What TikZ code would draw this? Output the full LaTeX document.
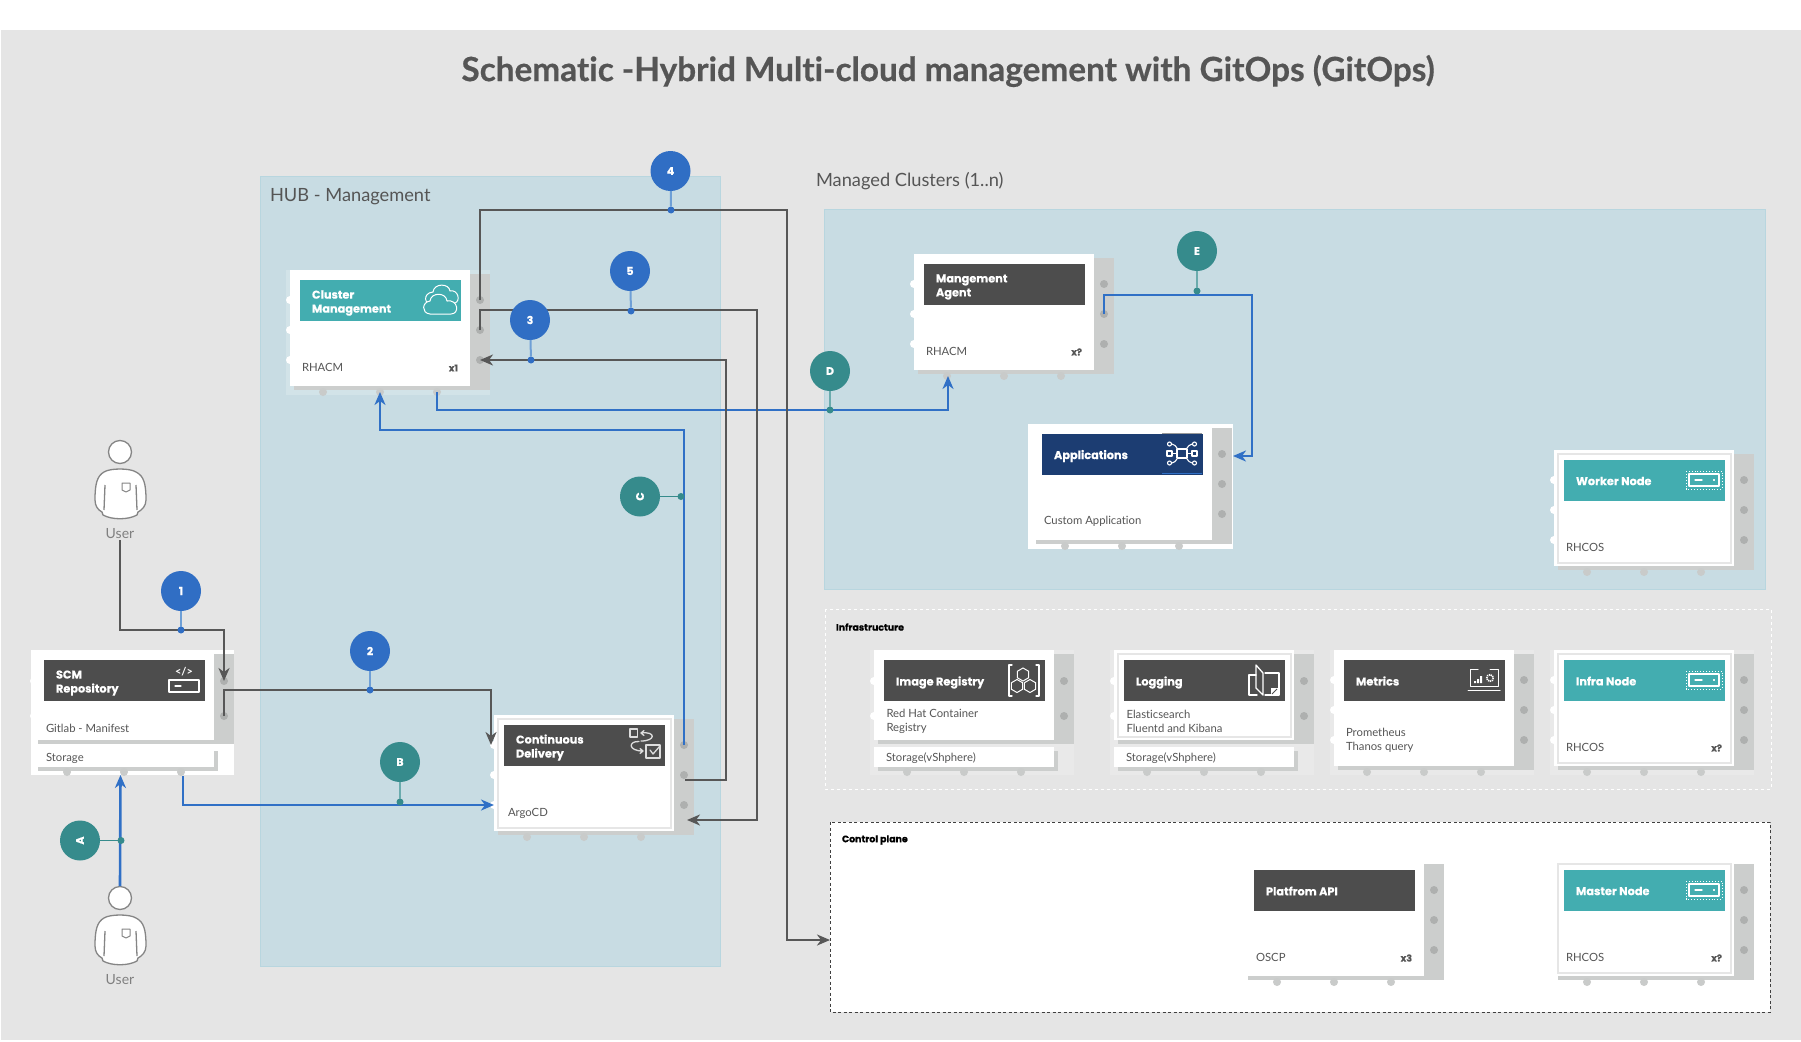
\documentclass[tikz,border=0pt]{standalone}
\usepackage{fontspec}
\setmainfont{Lato}[Ligatures=NoCommon]
\newfontfamily\hdrf{Poppins}[BoldFeatures={FakeBold=0.35}]
\newfontfamily\titlef{Lato}[Ligatures=NoCommon,BoldFeatures={FakeBold=0.5}]
\usetikzlibrary{arrows.meta,calc,shapes.geometric}
\definecolor{pagegrey}{HTML}{E5E5E5}
\definecolor{zoneblue}{HTML}{C8DCE3}
\definecolor{zoneedge}{HTML}{B8D6DF}
\definecolor{backing}{HTML}{CCCECD}
\definecolor{rpincol}{HTML}{AEB0AF}
\definecolor{bpincol}{HTML}{C9CBCA}
\definecolor{hdrteal}{HTML}{43ADB0}
\definecolor{hdrdark}{HTML}{4D4D4D}
\definecolor{hdrnavy}{HTML}{1C3D72}
\definecolor{txtgrey}{HTML}{555555}
\definecolor{linegrey}{HTML}{575757}
\definecolor{lineblue}{HTML}{3070C6}
\definecolor{badgeblue}{HTML}{306EC4}
\definecolor{badgeteal}{HTML}{368B8C}
\definecolor{stemblue}{HTML}{6E9FD6}
\definecolor{stemteal}{HTML}{6AABAD}
\definecolor{ringgrey}{HTML}{E6E6E6}
\definecolor{halogrey}{HTML}{E9E9E9}
\definecolor{halowhite}{HTML}{D2E3E8}
\definecolor{iconlight}{HTML}{DDDDDD}
\tikzset{
 every node/.style={inner sep=0pt,outer sep=0pt},
 zonebox/.style={fill=zoneblue,draw=zoneedge,line width=.8pt},
 rpin/.style={circle,minimum size=8pt,fill=rpincol},
 bpin/.style={circle,minimum size=8pt,fill=bpincol},
 lpin/.style={circle,minimum size=8pt,fill=white},
 cardbody/.style={fill=white,anchor=north west,minimum width=180pt},
 hdrbox/.style={anchor=north west,minimum width=161pt,minimum height=41pt},
 hdrtext/.style={anchor=west,text=white,align=left,font=\hdrf\bfseries\fontsize{11.3}{14}\selectfont},
 bodytext/.style={anchor=west,text=txtgrey,align=left,font=\fontsize{11.3}{14}\selectfont},
 counttext/.style={anchor=east,text=txtgrey,font=\hdrf\bfseries\fontsize{9.5}{11}\selectfont},
 seclabel/.style={anchor=west,text=txtgrey,font=\fontsize{18.25}{22}\selectfont},
 smalllabel/.style={anchor=west,text=black,font=\hdrf\bfseries\fontsize{9.4}{11}\selectfont},
 userlabel/.style={text=black!50,font=\fontsize{14}{16}\selectfont},
 badge/.style={circle,minimum size=40pt,text=white,font=\hdrf\bfseries\fontsize{11}{13}\selectfont},
 bluebadge/.style={badge,fill=badgeblue},
 tealbadge/.style={badge,fill=badgeteal},
 dotblue/.style={circle,minimum size=7pt,fill=badgeblue},
 dotteal/.style={circle,minimum size=7pt,fill=badgeteal},
 stemb/.style={draw=stemblue,line width=2pt},
 stemt/.style={draw=stemteal,line width=2pt},
 wire/.style={draw=linegrey,line width=2.6pt,-{Stealth[length=13pt,width=11pt,inset=4pt]}},
 wireblue/.style={draw=lineblue,line width=2.6pt,-{Stealth[length=13pt,width=11pt,inset=4pt]}},
 ring/.style={draw=ringgrey,line width=2pt},
 icon/.style={draw=white,line width=1.3pt,line join=round,line cap=round},
 iconl/.style={draw=iconlight,line width=1.3pt,line join=round,line cap=round},
 user/.style={draw=black!48,line width=1.3pt,fill=white,line join=round},
}
% full card: name X Y
\newcommand{\tallcard}[3]{%
 \fill[backing] (#2+4,#3+4) rectangle (#2+200,#3+120);
 \foreach \k/\d in {1/30,2/60,3/90}{
  \node[rpin] (#1-r\k) at (#2+190,#3+\d) {};
  \node[lpin] (#1-l\k) at (#2,#3+\d) {};}
 \foreach \k/\d in {1/33,2/90,3/147}{\node[bpin] (#1-b\k) at (#2+\d,#3+122) {};}
 \node[cardbody,minimum height=116pt] (#1) at (#2,#3) {};
}
% short card with storage strip: name X Y suffix
\newcommand{\shortcard}[4]{%
 \fill[backing] (#2+4,#3+4) rectangle (#2+200,#3+94);
 \foreach \k/\d in {1/31,2/66}{
  \node[rpin] (#1-r\k) at (#2+190,#3+\d) {};
  \node[lpin] (#1-l\k) at (#2,#3+\d) {};}
 \node[cardbody,minimum height=90pt] (#1) at (#2,#3) {};
 \fill[backing] (#2+4,#3+101) rectangle (#2+184,#3+121);
 \foreach \k/\d in {1/33,2/90,3/147}{\node[bpin] (#1-b\k) at (#2+\d,#3+122) {};}
 \node[cardbody,minimum height=20pt] (#1-st) at (#2,#3+97) {};
 \node[bodytext] (#1-sttext) at (#2+12,#3+108) {Storage#4};
}
\newcommand{\ringed}[3]{\draw[ring] (#1+3.5,#2+3.5) rectangle (#1+176.5,#2+#3-3.5);}
\newcommand{\header}[4]{% name X Y colour
 \node[hdrbox,fill=#4] (#1-h) at (#2+10,#3+10) {};}
\newcommand{\servericon}[2]{% X Y
 \draw[draw=white,line width=.9pt,dotted] (#1+132,#2+21) rectangle (#1+168,#2+39);
 \draw[icon] (#1+135,#2+24) rectangle (#1+165,#2+36);
 \draw[icon] (#1+141,#2+30) -- (#1+148,#2+30);
 \fill[white!85!hdrteal] (#1+159,#2+29) rectangle (#1+161,#2+31);
}
\begin{document}
\begin{tikzpicture}[x=1pt,y=-1pt]
\useasboundingbox (0,0) rectangle (1801,1041);
\fill[white] (0,0) rectangle (1801,1041);
\fill[pagegrey] (1,30) rectangle (1801,1040);
\node[text=txtgrey,font=\titlef\bfseries\fontsize{33.3}{38}\selectfont] (title) at (948,71) {Schematic -Hybrid Multi-cloud management with GitOps (GitOps)};
% zones
\draw[zonebox] (260,176) rectangle (720.5,966);
\node[seclabel] (hublabel) at (270,196.5) {HUB - Management};
\draw[zonebox] (824,209) rectangle (1765,589);
\node[seclabel] (mclabel) at (816,181) {Managed Clusters (1..n)};
\draw[draw=white,line width=.8pt,dashed] (825,609) rectangle (1771,789);
\node[smalllabel] (inflabel) at (836,627) {Infrastructure};
\draw[draw=black!75,fill=white,line width=1pt,dash pattern=on 3pt off 2.5pt] (830,822) rectangle (1770,1012);
\node[smalllabel] (cplabel) at (842,840) {Control plane};
% halos
\fill[halowhite] (286,270) rectangle (490,395);
\fill[halogrey] (870,650) rectangle (1074,775);
\fill[halogrey] (1110,650) rectangle (1314,775);
\fill[halogrey] (1330,650) rectangle (1534,775);
\fill[halogrey] (1550,650) rectangle (1754,775);
\fill[white] (31,650) rectangle (234,775);
\fill[white] (1028,424) rectangle (1233,549);
% cards
\tallcard{cm}{290}{270}
\header{cm}{290}{270}{hdrteal}
\node[hdrtext] (cm-t) at (312,303) {Cluster\\Management};
\node[bodytext] (cm-n) at (302,367.5) {RHACM};
\node[counttext] (cm-c) at (458,368) {x1};
\draw[icon,line width=1pt,fill=hdrteal] (434,305) .. controls (424,306) and (422,293) .. (433,292) .. controls (434,283) and (449,283) .. (450,291) .. controls (458,289) and (461,301) .. (455,303) -- cycle;
\draw[icon,line width=1pt,fill=hdrteal] (430,314) .. controls (421,313) and (422,302) .. (430,301) .. controls (431,292) and (446,292) .. (447,301) .. controls (458,299) and (460,314) .. (451,314) -- cycle;

\shortcard{scm}{34}{650}{}
\header{scm}{34}{650}{hdrdark}
\node[hdrtext] (scm-t) at (56,683) {SCM\\Repository};
\node[bodytext] (scm-n) at (46,728) {Gitlab - Manifest};
\node[text=white,font=\fontsize{11}{12}\selectfont\bfseries] (scm-code) at (184,672) {</>};
\draw[icon] (169,680) rectangle (199,692);
\draw[icon] (175,686) -- (181,686);

\tallcard{cd}{494}{715}
\ringed{494}{715}{116}
\header{cd}{494}{715}{hdrdark}
\node[hdrtext] (cd-t) at (516,747.5) {Continuous\\Delivery};
\node[bodytext] (cd-n) at (508,813) {ArgoCD};
\draw[iconl] (630,729) rectangle (637.5,737);
\draw[iconl] (641,733) .. controls (656,731) and (656,741) .. (641,741) (644,730.5) -- (641,733) -- (644,735.5);
\draw[iconl] (639,741.5) .. controls (628,741) and (628,751) .. (643,751) (640,748.5) -- (643,751) -- (640,753.5);
\draw[iconl] (646,745) rectangle (660,758);
\draw[iconl] (650,750) -- (653,754) -- (660,746);

\tallcard{ma}{914}{254}
\header{ma}{914}{254}{hdrdark}
\node[hdrtext] (ma-t) at (936,287) {Mangement\\Agent};
\node[bodytext] (ma-n) at (926,351) {RHACM};
\node[counttext] (ma-c) at (1082,352) {x?};

\tallcard{app}{1032}{424}
\header{app}{1032}{424}{hdrnavy}
\node[hdrtext] (app-t) at (1054,456) {Applications};
\node[bodytext] (app-n) at (1044,521.5) {Custom Application};
\draw[draw=black!40,line width=.8pt] (1162,433.5) -- (1202,433.5);
\draw[draw=lineblue,line width=.8pt] (1162,473.5) -- (1202,473.5);
\draw[icon] (1177,449) rectangle (1187,458);
\draw[icon,line width=1.1pt] (1167,451) rectangle (1172,456);
\draw[icon,line width=1.1pt] (1192,451) rectangle (1197,456);
\draw[icon,line width=1.1pt] (1172,453.5) -- (1177,453.5) (1187,453.5) -- (1192,453.5);
\draw[icon,line width=1.1pt] (1169.5,444) circle (2) (1194.5,444) circle (2) (1169.5,463) circle (2) (1194.5,463) circle (2);
\draw[icon,line width=1.1pt] (1172,444) -- (1175,445.5) -- (1177,448) (1192,444) -- (1189,445.5) -- (1187,448);
\draw[icon,line width=1.1pt] (1172,463) -- (1175,461.5) -- (1177,459) (1192,463) -- (1189,461.5) -- (1187,459);

\tallcard{wk}{1554}{450}
\ringed{1554}{450}{116}
\header{wk}{1554}{450}{hdrteal}
\node[hdrtext] (wk-t) at (1576,481) {Worker Node};
\node[bodytext] (wk-n) at (1566,547) {RHCOS};
\servericon{1554}{450}

\shortcard{ir}{874}{650}{(vShphere)}
\header{ir}{874}{650}{hdrdark}
\node[hdrtext] (ir-t) at (896,682.5) {Image Registry};
\node[bodytext] (ir-n) at (886.5,721.5) {Red Hat Container\\Registry};
\draw[icon] (1012,665) -- (1009,665) -- (1009,696) -- (1012,696) (1036,665) -- (1039,665) -- (1039,696) -- (1036,696);
\node[regular polygon,regular polygon sides=6,rotate=30,minimum size=13pt,draw=white,line width=1pt] (ir-i1) at (1023,674.5) {};
\node[regular polygon,regular polygon sides=6,rotate=30,minimum size=13pt,draw=white,line width=1pt] (ir-i2) at (1017,686) {};
\node[regular polygon,regular polygon sides=6,rotate=30,minimum size=13pt,draw=white,line width=1pt] (ir-i3) at (1030,686) {};

\shortcard{lg}{1114}{650}{(vShphere)}
\draw[ring] (1117.5,653.5) rectangle (1290.5,736.5);
\header{lg}{1114}{650}{hdrdark}
\node[hdrtext] (lg-t) at (1136,682.5) {Logging};
\node[bodytext] (lg-n) at (1126.5,721.5) {Elasticsearch\\Fluentd and Kibana};
\draw[icon] (1256,675) -- (1249,675) -- (1249,695) -- (1257,695);
\draw[icon] (1256,665) -- (1263,673) -- (1263,695) -- (1256,688) -- cycle;
\draw[icon] (1265,673) -- (1279,673) -- (1279,695) -- (1265,695);
\fill[white] (1271,688) rectangle (1278,695);
\draw[draw=hdrdark,line width=.8pt] (1272,694) -- (1277,689);

\tallcard{mt}{1334}{650}
\header{mt}{1334}{650}{hdrdark}
\node[hdrtext] (mt-t) at (1356,681) {Metrics};
\node[bodytext] (mt-n) at (1346,740.5) {Prometheus\\Thanos query};
\draw[icon,line width=1pt] (1478,669) -- (1470,669) -- (1470,686) -- (1498,686) -- (1498,669) -- (1490,669);
\draw[icon,line width=1pt] (1468,690) -- (1500,690);
\fill[white] (1474,681) rectangle (1476,683) (1477,679) rectangle (1479,683) (1480,676) rectangle (1482,683);
\draw[draw=white,line width=1.6pt,dash pattern=on 1.2pt off .8pt] (1490,678) circle (3.3);

\tallcard{in}{1554}{650}
\ringed{1554}{650}{116}
\header{in}{1554}{650}{hdrteal}
\node[hdrtext] (in-t) at (1576,681) {Infra Node};
\node[bodytext] (in-n) at (1566,747) {RHCOS};
\node[counttext] (in-c) at (1722,748) {x?};
\servericon{1554}{650}

\tallcard{api}{1244}{860}
\header{api}{1244}{860}{hdrdark}
\node[hdrtext] (api-t) at (1266,891) {Platfrom API};
\node[bodytext] (api-n) at (1256,957) {OSCP};
\node[counttext] (api-c) at (1412,958) {x3};

\tallcard{ms}{1554}{860}
\ringed{1554}{860}{116}
\header{ms}{1554}{860}{hdrteal}
\node[hdrtext] (ms-t) at (1576,891) {Master Node};
\node[bodytext] (ms-n) at (1566,957) {RHCOS};
\node[counttext] (ms-c) at (1722,958) {x?};
\servericon{1554}{860}

% users
\node[circle,user,minimum size=23pt] (u1) at (120,452) {};
\draw[user] (104,472) .. controls (110,468) and (130,468) .. (136,472) .. controls (144,476) and (146,484) .. (146,500) .. controls (146,506) and (142,510) .. (138,512) -- (137,515) .. controls (128,520) and (112,520) .. (103,515) -- (102,512) .. controls (98,510) and (95,506) .. (95,500) .. controls (95,484) and (97,476) .. (104,472) -- cycle;
\draw[user,fill=none] (105,485) -- (104,510) (136,485) -- (137,510);
\draw[user,fill=none,line width=1pt] (122,483) -- (130,483) -- (130,490) -- (126,492) -- (122,490) -- cycle;
\node[userlabel] (u1l) at (120,534) {User};
\node[circle,user,minimum size=23pt] (u2) at (120,898) {};
\draw[user] (104,918) .. controls (110,914) and (130,914) .. (136,918) .. controls (144,922) and (146,930) .. (146,946) .. controls (146,952) and (142,956) .. (138,958) -- (137,961) .. controls (128,966) and (112,966) .. (103,961) -- (102,958) .. controls (98,956) and (95,952) .. (95,946) .. controls (95,930) and (97,922) .. (104,918) -- cycle;
\draw[user,fill=none] (105,931) -- (104,956) (136,931) -- (137,956);
\draw[user,fill=none,line width=1pt] (122,929) -- (130,929) -- (130,936) -- (126,938) -- (122,936) -- cycle;
\node[userlabel] (u2l) at (120,980) {User};

% free ends
\coordinate (p4a) at (480,210);
\coordinate (p4b) at (787,210);
\coordinate (cpin) at (830,940);
\coordinate (p4c) at (787,940);
\coordinate (p5end) at (687,820);
\coordinate (p3a) at (685,780);
\coordinate (p3b) at (726,780);
\coordinate (u1s) at (120,540);
\coordinate (u2s) at (120,886);

% connectors
\draw[wire] (u1s) -- (120,630) -- (224,630) -- (scm-r1.center);
\draw[wire] (scm-r2.center) -- (224,690) -- (491,690) -- (491,745);
\draw[wireblue] (183,776) -- (183,805) -- (cd-l3.center);
\draw[wireblue] (u2s) -- (120.5,775);
\draw[wireblue] (cd-r1.center) -- (684,430) -- (380,430) -- (380,392);
\draw[wireblue,-] (437,392) -- (437,410) -- (830,410);
\draw[wireblue] (830,410) -- (948,410) -- (948,376);
\draw[wire] (cm-r1.center) -- (p4a) -- (p4b) -- (p4c) -- (cpin);
\draw[wire] (cm-r2.center) -- (480,310) -- (757,310) -- (757,820) -- (p5end);
\draw[wire] (p3a) -- (p3b) -- (726,360) -- (cm-r3.center);
\draw[wireblue] (ma-r2.center) -- (1104,295) -- (1252,295) -- (1252,456) -- (1233,456);

% badges
\node[bluebadge] (b1) at (181,591) {1};
\node[dotblue] (d1) at (181,630) {};
\draw[stemb] (b1) -- (d1);
\node[bluebadge] (b2) at (370,651) {2};
\node[dotblue] (d2) at (370,690) {};
\draw[stemb] (b2) -- (d2);
\node[bluebadge] (b3) at (530,320) {3};
\node[dotblue] (d3) at (531,360) {};
\draw[stemb] (b3) -- (d3);
\node[bluebadge] (b4) at (670.5,171) {4};
\node[dotblue] (d4) at (671,210) {};
\draw[stemb] (b4) -- (d4);
\node[bluebadge] (b5) at (630,271) {5};
\node[dotblue] (d5) at (631,311) {};
\draw[stemb] (b5) -- (d5);
\node[tealbadge] (ba) at (80,840.5) {\rotatebox{90}{A}};
\node[dotteal] (da) at (121,840.5) {};
\draw[stemt,draw=badgeteal,line width=1.2pt] (ba) -- (da);
\node[tealbadge] (bb) at (400,762) {B};
\node[dotteal] (db) at (400,802) {};
\draw[stemt] (bb) -- (db);
\node[tealbadge] (bc) at (640,496.5) {\rotatebox{90}{C}};
\node[dotteal] (dc) at (681,496.5) {};
\draw[stemt,draw=badgeteal,line width=1.2pt] (bc) -- (dc);
\node[tealbadge] (bd) at (830,371) {D};
\node[dotteal] (dd) at (830,410) {};
\draw[stemt] (bd) -- (dd);
\node[tealbadge] (be) at (1197,251) {E};
\node[dotteal] (de) at (1197,291) {};
\draw[stemt] (be) -- (de);
\end{tikzpicture}
\end{document}
